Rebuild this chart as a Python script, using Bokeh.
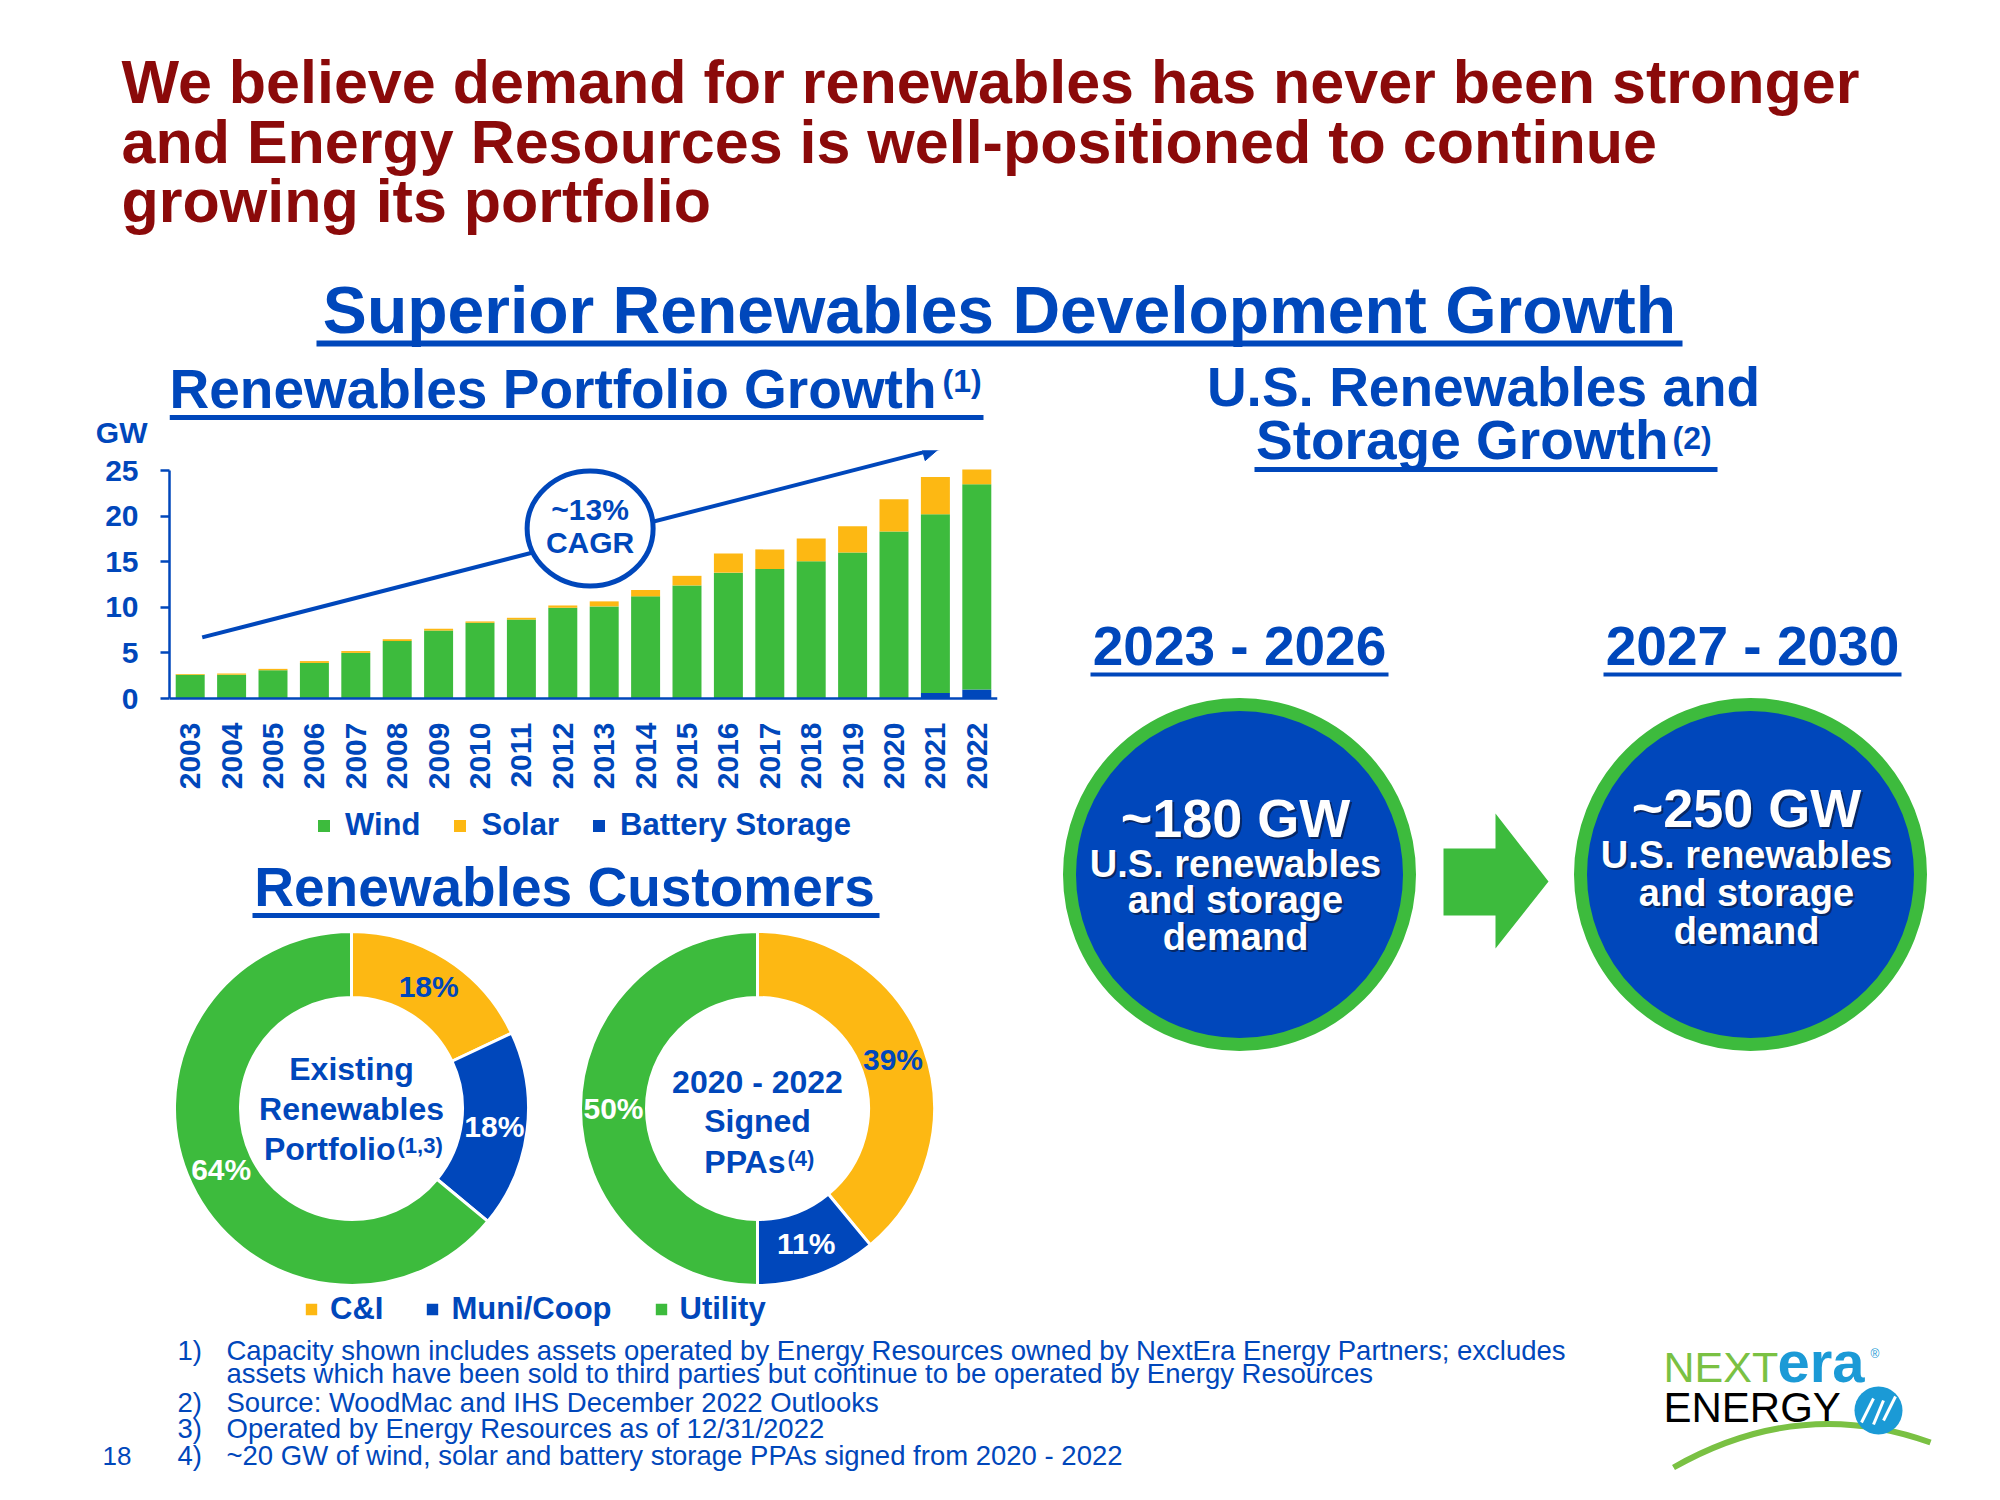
import numpy as np
from bokeh.plotting import figure
from bokeh.models import (ColumnDataSource, FactorRange, Range1d, FixedTicker, Legend,
                          LegendItem, Arrow, NormalHead, CustomJSTickFormatter)
from bokeh.layouts import column, row
from bokeh.core.properties import value
from bokeh.embed import file_html
from bokeh.resources import INLINE

# ---------------- data ----------------
years = [str(y) for y in range(2003, 2023)]
wind = [2.6, 2.6, 3.1, 3.9, 5.0, 6.3, 7.45, 8.3, 8.65, 9.95,
        10.1, 11.2, 12.4, 13.8, 14.2, 15.05, 16.0, 18.3, 19.6, 22.5]
solar = [0.1, 0.15, 0.15, 0.2, 0.2, 0.2, 0.2, 0.15, 0.2, 0.25,
         0.55, 0.7, 1.05, 2.1, 2.15, 2.5, 2.9, 3.55, 4.1, 1.6]
battery = [0, 0, 0, 0, 0, 0, 0, 0, 0, 0,
           0, 0, 0, 0, 0, 0, 0, 0, 0.6, 1.0]
y_ticks = [0, 5, 10, 15, 20, 25]
cagr_label = ["~13%", "CAGR"]

customer_types = ["C&I", "Muni/Coop", "Utility"]
existing_share = [18, 18, 64]
signed_share = [39, 11, 50]

periods = ["2023 - 2026", "2027 - 2030"]
demand_gw = [180, 250]

footnotes = [
    ("1)", "Capacity shown includes assets operated by Energy Resources owned by NextEra Energy Partners; excludes"),
    ("", "assets which have been sold to third parties but continue to be operated by Energy Resources"),
    ("2)", "Source: WoodMac and IHS December 2022 Outlooks"),
    ("3)", "Operated by Energy Resources as of 12/31/2022"),
    ("4)", "~20 GW of wind, solar and battery storage PPAs signed from 2020 - 2022"),
]

# ---------------- style ----------------
BLUE = "#0047BB"
GREEN = "#3DBB3D"
YELLOW = "#FDB813"
RED = "#8B0A0A"
FONT = "Liberation Sans"
CAP = 0.358  # half cap-height of the font, in em

# left column frame (aligned by the column layout with the bar chart's frame)
FL, FR = 169, 997
W_LEFT = 1000


def canvas(x0, x1, y0, y1, left=0, right=0, fx0=None, fx1=None, y_axis=None):
    """Blank figure in page-pixel coordinates (y negated so it grows downward)."""
    fx0 = x0 if fx0 is None else fx0
    fx1 = x1 if fx1 is None else fx1
    p = figure(width=x1 - x0, height=y1 - y0, x_range=Range1d(fx0, fx1),
               y_range=Range1d(-y1, -y0), output_backend="svg",
               toolbar_location=None, min_border=0, min_border_left=left,
               min_border_right=right, min_border_top=0, min_border_bottom=0,
               x_axis_type=None, y_axis_type=y_axis)
    p.grid.visible = False
    p.outline_line_color = None
    return p


def txt(p, x, base, s, size, color=BLUE, align="left", bold=True, **kw):
    p.text(x=[x], y=[-(base - CAP * size)], text=[s], text_font=value(FONT),
           text_font_size=value(f"{size}px"),
           text_font_style="bold" if bold else "normal", text_color=color,
           text_align=align, text_baseline="middle", **kw)


def uline(p, x0, x1, y, w=5, color=BLUE):
    p.segment(x0=[x0], y0=[-y], x1=[x1], y1=[-y], line_color=color, line_width=w)


# ---------------- top title area ----------------
top = canvas(0, 1984, 0, 355)
title_lines = ["We believe demand for renewables has never been stronger",
               "and Energy Resources is well-positioned to continue",
               "growing its portfolio"]
for line, base in zip(title_lines, [103, 163, 222]):
    txt(top, 121, base, line, 61, color=RED)
txt(top, 999, 333, "Superior Renewables Development Growth", 66, align="center")
uline(top, 316, 1682, 343, w=6)

# ---------------- left header (its y axis carries the "GW" unit) ----------------
HDR_BOTTOM = 450
hdr = canvas(0, W_LEFT, 355, HDR_BOTTOM, left=FL, right=W_LEFT - FR, fx0=FL, fx1=FR,
             y_axis="linear")
txt(hdr, 169, 408, "Renewables Portfolio Growth", 55)
txt(hdr, 942, 392, "(1)", 32)
uline(hdr, 169, 983, 417)
hdr.yaxis.ticker = FixedTicker(ticks=[-432])
hdr.yaxis.formatter = CustomJSTickFormatter(code="return 'GW'")
hdr.yaxis.axis_line_color = None
hdr.yaxis.major_tick_line_color = None
hdr.yaxis.minor_tick_line_color = None
hdr.yaxis.major_tick_out = 0
hdr.yaxis.major_label_standoff = 22
hdr.yaxis.major_label_text_font = FONT
hdr.yaxis.major_label_text_font_size = "30px"
hdr.yaxis.major_label_text_font_style = "bold"
hdr.yaxis.major_label_text_color = BLUE

# ---------------- bar chart ----------------
BAR_TOP, BAR_BOTTOM, AXIS_Y = HDR_BOTTOM, 850, 698
PX_PER_GW = 9.12
src = ColumnDataSource(dict(year=years, wind=wind, solar=solar, battery=battery))
pb = figure(x_range=FactorRange(*years),
            y_range=Range1d(-(BAR_BOTTOM - AXIS_Y) / PX_PER_GW,
                            (AXIS_Y - BAR_TOP) / PX_PER_GW),
            width=W_LEFT, height=BAR_BOTTOM - BAR_TOP, output_backend="svg",
            toolbar_location=None, min_border_left=FL, min_border_right=W_LEFT - FR,
            min_border_top=0, min_border_bottom=0)
pb.outline_line_color = None
pb.grid.visible = False

trend = Arrow(end=NormalHead(size=17, fill_color=BLUE, line_color=BLUE, line_width=1),
              x_start=0.79, y_start=6.7, x_end=18.6, y_end=27.45,
              line_color=BLUE, line_width=4, level="underlay")
pb.add_layout(trend)

bars = pb.vbar_stack(["battery", "wind", "solar"], x="year", width=0.7, source=src,
                     fill_color=[BLUE, GREEN, YELLOW], line_color=None)

pb.ellipse(x=[10.16], y=[18.64], width=126, height=115, width_units="screen",
           height_units="screen", fill_color="white", line_color=BLUE, line_width=5)
pb.text(x=[10.16, 10.16], y=[20.7, 17.1], text=cagr_label, text_font=value(FONT),
        text_font_size=value("30px"), text_font_style="bold", text_color=BLUE,
        text_align="center", text_baseline="middle")

pb.xaxis.fixed_location = 0
pb.xaxis.axis_line_color = BLUE
pb.xaxis.axis_line_width = 2.5
pb.xaxis.major_tick_line_color = None
pb.xaxis.minor_tick_line_color = None
pb.xaxis.major_tick_out = 0
pb.xaxis.major_label_orientation = np.pi / 2
pb.xaxis.major_label_standoff = 24
pb.xaxis.major_label_text_font = FONT
pb.xaxis.major_label_text_font_size = "30px"
pb.xaxis.major_label_text_font_style = "bold"
pb.xaxis.major_label_text_color = BLUE

pb.yaxis.bounds = (0, 25)
pb.yaxis.ticker = FixedTicker(ticks=y_ticks)
pb.yaxis.axis_line_color = BLUE
pb.yaxis.axis_line_width = 2.5
pb.yaxis.major_tick_line_color = BLUE
pb.yaxis.major_tick_line_width = 2.5
pb.yaxis.major_tick_out = 9
pb.yaxis.major_tick_in = 0
pb.yaxis.minor_tick_line_color = None
pb.yaxis.major_label_standoff = 22
pb.yaxis.major_label_text_font = FONT
pb.yaxis.major_label_text_font_size = "30px"
pb.yaxis.major_label_text_font_style = "bold"
pb.yaxis.major_label_text_color = BLUE

bar_legend = Legend(items=[LegendItem(label="Wind", renderers=[bars[1]]),
                           LegendItem(label="Solar", renderers=[bars[2]]),
                           LegendItem(label="Battery Storage", renderers=[bars[0]])],
                    orientation="horizontal", location=(316 - FL, BAR_BOTTOM - 843),
                    glyph_width=15, glyph_height=15, label_standoff=14, spacing=32,
                    padding=0, margin=0, border_line_color=None,
                    background_fill_alpha=0, label_text_font=FONT,
                    label_text_font_size="31px", label_text_font_style="bold",
                    label_text_color=BLUE)
pb.add_layout(bar_legend)

# ---------------- donuts ----------------
pd_ = canvas(0, W_LEFT, BAR_BOTTOM, 1330, left=FL, right=W_LEFT - FR, fx0=FL, fx1=FR)
txt(pd_, 564, 906, "Renewables Customers", 55, align="center")
uline(pd_, 252, 879, 915)

donut_centers = [(351, 1108), (757, 1108)]
R_IN, R_OUT = 111, 177
shares = [existing_share, signed_share]
cust_colors = [YELLOW, BLUE, GREEN]


def wedge_angles(vals):
    fr = np.array(vals, dtype=float) / sum(vals)
    cum = np.concatenate([[0.0], np.cumsum(fr)])
    start = np.pi / 2 - 2 * np.pi * cum[:-1]
    end = np.pi / 2 - 2 * np.pi * cum[1:]
    return start, end, (start + end) / 2


angles = [wedge_angles(s) for s in shares]
wedge_renderers = []
for i, (cat, col) in enumerate(zip(customer_types, cust_colors)):
    wsrc = ColumnDataSource(dict(
        x=[c[0] for c in donut_centers], y=[-c[1] for c in donut_centers],
        start=[a[0][i] for a in angles], end=[a[1][i] for a in angles]))
    r = pd_.annular_wedge(x="x", y="y", inner_radius=R_IN, outer_radius=R_OUT,
                          start_angle="start", end_angle="end", direction="clock",
                          fill_color=col, line_color="white", line_width=3, source=wsrc)
    wedge_renderers.append(r)

r_mid = (R_IN + R_OUT) / 2
for (cx, cy), a, s in zip(donut_centers, angles, shares):
    for i, v in enumerate(s):
        lx = cx + r_mid * np.cos(a[2][i])
        ly = -cy + r_mid * np.sin(a[2][i])
        pd_.text(x=[lx], y=[ly], text=[f"{v}%"], text_font=value(FONT),
                 text_font_size=value("30px"), text_font_style="bold",
                 text_color=BLUE if i == 0 else "white", text_align="center",
                 text_baseline="middle")

txt(pd_, 351, 1080, "Existing", 32, align="center")
txt(pd_, 351, 1120, "Renewables", 32, align="center")
txt(pd_, 395, 1160, "Portfolio", 32, align="right")
txt(pd_, 397, 1153, "(1,3)", 22)
txt(pd_, 757, 1093, "2020 - 2022", 32, align="center")
txt(pd_, 757, 1132, "Signed", 32, align="center")
txt(pd_, 785, 1173, "PPAs", 32, align="right")
txt(pd_, 787, 1166, "(4)", 22)

donut_legend = Legend(items=[LegendItem(label=c, renderers=[r])
                             for c, r in zip(customer_types, wedge_renderers)],
                      orientation="horizontal", location=(302 - FL, 3),
                      glyph_width=18, glyph_height=18, label_standoff=10, spacing=40,
                      padding=0, margin=0, border_line_color=None,
                      background_fill_alpha=0, label_text_font=FONT,
                      label_text_font_size="31px", label_text_font_style="bold",
                      label_text_color=BLUE)
pd_.add_layout(donut_legend)

left_col = column(hdr, pb, pd_)

# ---------------- right panel ----------------
pr = canvas(W_LEFT, 1984, 355, 1330)
txt(pr, 1483, 406, "U.S. Renewables and", 55, align="center")
txt(pr, 1668, 459, "Storage Growth", 55, align="right")
txt(pr, 1672, 449, "(2)", 32)
uline(pr, 1254, 1717, 469)

circle_x = [1239, 1750]
circle_y = 874
period_cx = [1239, 1752]
for px_, per in zip(period_cx, periods):
    txt(pr, px_, 665, per, 55, align="center")
    uline(pr, px_ - 149, px_ + 149, 674, w=4)

pr.circle(x=circle_x, y=[-circle_y] * 2, radius=170, fill_color=BLUE,
          line_color=GREEN, line_width=13)

# block arrow between the circles
ax = [1443, 1495, 1495, 1548, 1495, 1495, 1443]
ay = [848, 848, 813, 881, 948, 915, 915]
pr.patch(x=ax, y=[-v for v in ay], fill_color=GREEN, line_color=None)

bases = [[837, 877, 913, 950], [827, 868, 906, 944]]
for cx, gw, b in zip(circle_x, demand_gw, bases):
    lines = [(f"~{gw} GW", 54), ("U.S. renewables", 38), ("and storage", 38), ("demand", 38)]
    for (s, size), yb in zip(lines, b):
        txt(pr, cx - 4, yb, s, size, color="#0a1a40", align="center",
            x_offset=2, y_offset=2, text_alpha=0.7)
        txt(pr, cx - 4, yb, s, size, color="white", align="center")

main_row = row(left_col, pr)

# ---------------- bottom: footnotes + logo ----------------
pf = canvas(0, 1984, 1330, 1484)
fn_bases = [1360, 1383, 1412, 1438, 1465]
for (num, s), yb in zip(footnotes, fn_bases):
    if num:
        txt(pf, 177, yb, num, 27.5, bold=False)
    txt(pf, 226, yb, s, 27.5, bold=False)
txt(pf, 102, 1465, "18", 26, bold=False)

txt(pf, 1663, 1382, "NEXT", 43, color="#7AC143", bold=False)
txt(pf, 1777, 1382, "era", 58, color="#1B9AD6")
txt(pf, 1870, 1358, "®", 12, color="#1B9AD6", bold=False)
txt(pf, 1663, 1422, "ENERGY", 42, color="black", bold=False)
pf.quadratic(x0=[1673], y0=[-1467], x1=[1930], y1=[-1442], cx=[1800], cy=[-1395],
             line_color="#7AC143", line_width=6)
pf.circle(x=[1878], y=[-1410], radius=24, fill_color="#1B9AD6", line_color=None)
pf.segment(x0=[1861, 1873, 1883], y0=[-1422, -1424, -1420],
           x1=[1873, 1883, 1895], y1=[-1398, -1400, -1396],
           line_color="white", line_width=3)

layout = column(top, main_row, pf)

open("out.html", "w").write(file_html(layout, INLINE))
